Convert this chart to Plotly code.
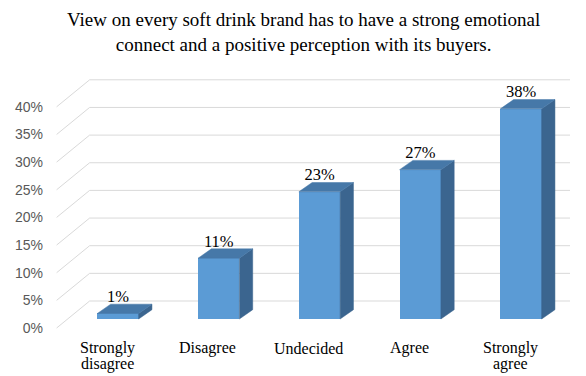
import plotly.graph_objects as go

categories = ["Strongly\ndisagree", "Disagree", "Undecided", "Agree", "Strongly\nagree"]
values = [1, 11, 23, 27, 38]
tick_values = [0, 5, 10, 15, 20, 25, 30, 35, 40]
tick_labels = ["0%", "5%", "10%", "15%", "20%", "25%", "30%", "35%", "40%"]
title_text = "View on every soft drink brand has to have a strong emotional<br>connect and a positive perception with its buyers."

# page body has an 8px margin; compensate
OFF = 8
W = 586 - OFF
H = 376 - OFF
ML = 36
px_per_x = 100.75
px_per_y = 5.53
x0_px = 118.0 - OFF      # pixel of category 0 centre
y0_px = 319.0 - OFF      # pixel of value 0 on bar front plane
xr = [(ML - x0_px) / px_per_x, (W - x0_px) / px_per_x]
yr = [(y0_px - H) / px_per_y, y0_px / px_per_y]
front_dy = -9 / px_per_y     # floor front edge
front_dx = -11 / px_per_x
back_dy = 18 / px_per_y      # back wall
back_dx = 22 / px_per_x
bar_w = 0.41
depth_dx = 13.3 / px_per_x
depth_dy = 9.3 / px_per_y
grid_end = (570 - OFF - x0_px) / px_per_x

xs = list(range(len(values)))

fig = go.Figure()

# gridlines (front-edge diagonal + back wall) as shapes below the traces
for v in tick_values:
    fig.add_shape(type="line", xref="x", yref="y", x0=front_dx - 0.5, y0=v + front_dy,
                  x1=back_dx - 0.5, y1=v + back_dy, line=dict(color="#d9d9d9", width=1), layer="below")
    fig.add_shape(type="line", xref="x", yref="y", x0=back_dx - 0.5, y0=v + back_dy,
                  x1=grid_end, y1=v + back_dy, line=dict(color="#d9d9d9", width=1), layer="below")

# front faces
fig.add_trace(go.Bar(x=xs, y=values, width=bar_w, marker=dict(color="#5b9bd5", line=dict(width=0)),
                     showlegend=False))

# side and top faces
sx, sy = [], []
tx, ty = [], []
for i, v in zip(xs, values):
    r = i + bar_w / 2
    l = i - bar_w / 2
    sx += [r, r, r + depth_dx, r + depth_dx, r, None]
    sy += [0, v, v + depth_dy, depth_dy, 0, None]
    tx += [l, r, r + depth_dx, l + depth_dx, l, None]
    ty += [v, v, v + depth_dy, v + depth_dy, v, None]
fig.add_trace(go.Scatter(x=sx, y=sy, mode="lines", fill="toself", fillcolor="#3b658f",
                         line=dict(color="#3b658f", width=0.5), hoverinfo="skip", showlegend=False))
fig.add_trace(go.Scatter(x=tx, y=ty, mode="lines", fill="toself", fillcolor="#4678a8",
                         line=dict(color="#4678a8", width=0.5), hoverinfo="skip", showlegend=False))

# data labels
fig.add_trace(go.Scatter(x=xs, y=[v + 2.85 for v in values], mode="text",
                         text=[f"{v}%" for v in values], textposition="middle center",
                         textfont=dict(family="Liberation Serif", size=16.5, color="#000000"),
                         hoverinfo="skip", showlegend=False))

# category labels
for i, c in zip(xs, categories):
    for k, line in enumerate(c.split("\n")):
        fig.add_annotation(x=i + front_dx, y=(y0_px - (348 - OFF + 16 * k)) / px_per_y,
                           xref="x", yref="y", text=line, showarrow=False,
                           xanchor="center", yanchor="middle",
                           font=dict(family="Liberation Serif", size=16, color="#000000"))

# title
fig.add_annotation(x=(303 - OFF - ML) / (W - ML), y=1 - (32.5 - OFF) / H, xref="paper", yref="paper",
                   text=title_text, showarrow=False, xanchor="center", yanchor="middle",
                   font=dict(family="Liberation Serif", size=19, color="#000000"))

fig.update_layout(
    width=W, height=H,
    margin=dict(l=ML, r=0, t=0, b=0, pad=0),
    paper_bgcolor="white", plot_bgcolor="white",
    xaxis=dict(range=xr, visible=False, fixedrange=True, automargin=False),
    yaxis=dict(range=yr, visible=False, fixedrange=True, automargin=False),
    yaxis2=dict(range=[yr[0] - front_dy, yr[1] - front_dy], overlaying="y", side="left",
                tickvals=tick_values, ticktext=tick_labels, showgrid=False, zeroline=False,
                showline=False, ticks="", automargin=False, fixedrange=True,
                tickfont=dict(family="Liberation Sans", size=14, color="#595959")),
    bargap=0,
)
fig.add_trace(go.Scatter(x=[None], y=[None], yaxis="y2", showlegend=False, hoverinfo="skip"))

fig.write_html("out.html")
